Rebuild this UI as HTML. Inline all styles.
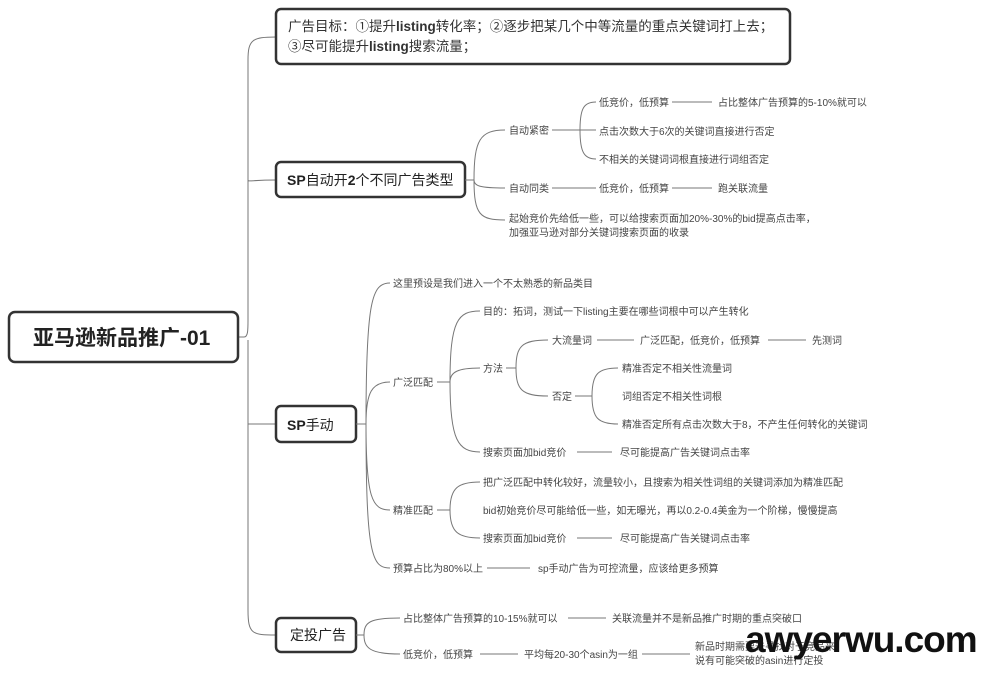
<!DOCTYPE html><html><head><meta charset="utf-8"><style>
body{margin:0;background:#fff;width:1000px;height:673px;overflow:hidden}
svg text{font-family:"Liberation Sans","Noto Sans CJK SC",sans-serif;fill:#444;font-size:10px}
.c{fill:none;stroke:#777;stroke-width:1}
.b{fill:#fff;stroke:#333;stroke-width:2.5}
</style></head><body>
<svg width="1000" height="673" xmlns="http://www.w3.org/2000/svg">
<path class="c" d="M238 337 H244 M244 337 C248 337 248 330 248 320 V60 C248 40 252 37 276 37 M248 320 V180 C248 182 252 180 276 180 M248 340 V424 C248 424 252 424 276 424 M248 340 V610 C248 634 252 635 276 635"/>
<rect class="b" x="9" y="312" width="229" height="50" rx="6"/>
<text x="33" y="345" style="font-size:21px;font-weight:bold;fill:#222">亚马逊新品推广-01</text>
<rect class="b" x="276" y="9" width="514" height="55" rx="5"/>
<text x="288" y="31" style="font-size:13.5px;fill:#333">广告目标：①提升<tspan font-weight="bold">listing</tspan>转化率；②逐步把某几个中等流量的重点关键词打上去；</text>
<text x="288" y="51" style="font-size:13.5px;fill:#333">③尽可能提升<tspan font-weight="bold">listing</tspan>搜索流量；</text>
<rect class="b" x="276" y="162" width="189" height="35" rx="5"/>
<text x="287" y="185" style="font-size:14px;fill:#222"><tspan font-weight="bold">SP</tspan>自动开<tspan font-weight="bold">2</tspan>个不同广告类型</text>
<path class="c" d="M465 180 H474 M474 180 C474 140 480 130 505 130 M474 180 C474 186 480 188 505 188 M474 180 C474 215 480 220 505 220"/>
<text x="509" y="134">自动紧密</text>
<text x="509" y="192">自动同类</text>
<text x="509" y="222">起始竞价先给低一些，可以给搜索页面加20%-30%的bid提高点击率，</text>
<text x="509" y="236">加强亚马逊对部分关键词搜索页面的收录</text>
<path class="c" d="M552 130 H596 M580 130 C580 108 584 102 596 102 M580 130 C580 152 584 159 596 159 M552 188 H596 M672 102 H712 M672 188 H712"/>
<text x="599" y="106">低竞价，低预算</text>
<text x="718" y="106">占比整体广告预算的5-10%就可以</text>
<text x="599" y="135">点击次数大于6次的关键词直接进行否定</text>
<text x="599" y="163">不相关的关键词词根直接进行词组否定</text>
<text x="599" y="192">低竞价，低预算</text>
<text x="718" y="192">跑关联流量</text>
<rect class="b" x="276" y="406" width="80" height="36" rx="5"/>
<text x="287" y="430" style="font-size:14px;fill:#222"><tspan font-weight="bold">SP</tspan>手动</text>
<path class="c" d="M356 424 H366 M366 424 C366 300 372 283 390 283 M366 424 C366 392 372 382 390 382 M366 424 C366 498 372 510 390 510 M366 424 C366 556 372 568 390 568"/>
<text x="393" y="287">这里预设是我们进入一个不太熟悉的新品类目</text>
<text x="393" y="386">广泛匹配</text>
<text x="393" y="514">精准匹配</text>
<text x="393" y="572">预算占比为80%以上</text>
<path class="c" d="M487 568 H530"/>
<text x="538" y="572">sp手动广告为可控流量，应该给更多预算</text>
<path class="c" d="M437 382 H450 M450 382 C450 320 458 311 480 311 M450 382 C450 372 458 368 480 368 M450 382 C450 440 458 452 480 452"/>
<text x="483" y="315">目的：拓词，测试一下listing主要在哪些词根中可以产生转化</text>
<text x="483" y="372">方法</text>
<text x="483" y="456">搜索页面加bid竞价</text>
<path class="c" d="M577 452 H612"/>
<text x="620" y="456">尽可能提高广告关键词点击率</text>
<path class="c" d="M506 368 H516 M516 368 C516 346 522 340 548 340 M516 368 C516 390 522 396 548 396"/>
<text x="552" y="344">大流量词</text>
<text x="552" y="400">否定</text>
<path class="c" d="M597 340 H634 M768 340 H806"/>
<text x="640" y="344">广泛匹配，低竞价，低预算</text>
<text x="812" y="344">先测词</text>
<path class="c" d="M575 396 H592 M592 396 C592 374 598 368 618 368 M592 396 C592 418 598 424 618 424"/>
<text x="622" y="372">精准否定不相关性流量词</text>
<text x="622" y="400">词组否定不相关性词根</text>
<text x="622" y="428">精准否定所有点击次数大于8，不产生任何转化的关键词</text>
<path class="c" d="M437 510 H450 M450 510 C450 488 458 482 480 482 M450 510 C450 532 458 538 480 538"/>
<text x="483" y="486">把广泛匹配中转化较好，流量较小，且搜索为相关性词组的关键词添加为精准匹配</text>
<text x="483" y="514">bid初始竞价尽可能给低一些，如无曝光，再以0.2-0.4美金为一个阶梯，慢慢提高</text>
<text x="483" y="542">搜索页面加bid竞价</text>
<path class="c" d="M577 538 H612"/>
<text x="620" y="542">尽可能提高广告关键词点击率</text>
<rect class="b" x="276" y="618" width="80" height="34" rx="5"/>
<text x="290" y="640" style="font-size:14px;fill:#222">定投广告</text>
<path class="c" d="M356 635 H364 M364 635 C364 622 370 618 400 618 M364 635 C364 648 370 654 400 654"/>
<text x="403" y="622">占比整体广告预算的10-15%就可以</text>
<path class="c" d="M568 618 H606"/>
<text x="612" y="622">关联流量并不是新品推广时期的重点突破口</text>
<text x="403" y="658">低竞价，低预算</text>
<path class="c" d="M480 654 H518 M642 654 H690"/>
<text x="524" y="658">平均每20-30个asin为一组</text>
<text x="695" y="650">新品时期需要去寻找对于竞品来</text>
<text x="695" y="664">说有可能突破的asin进行定投</text>
<text x="745" y="652" style="font-size:37px;font-weight:bold;fill:#111;letter-spacing:-1px">awyerwu.com</text>
</svg>
</body></html>
